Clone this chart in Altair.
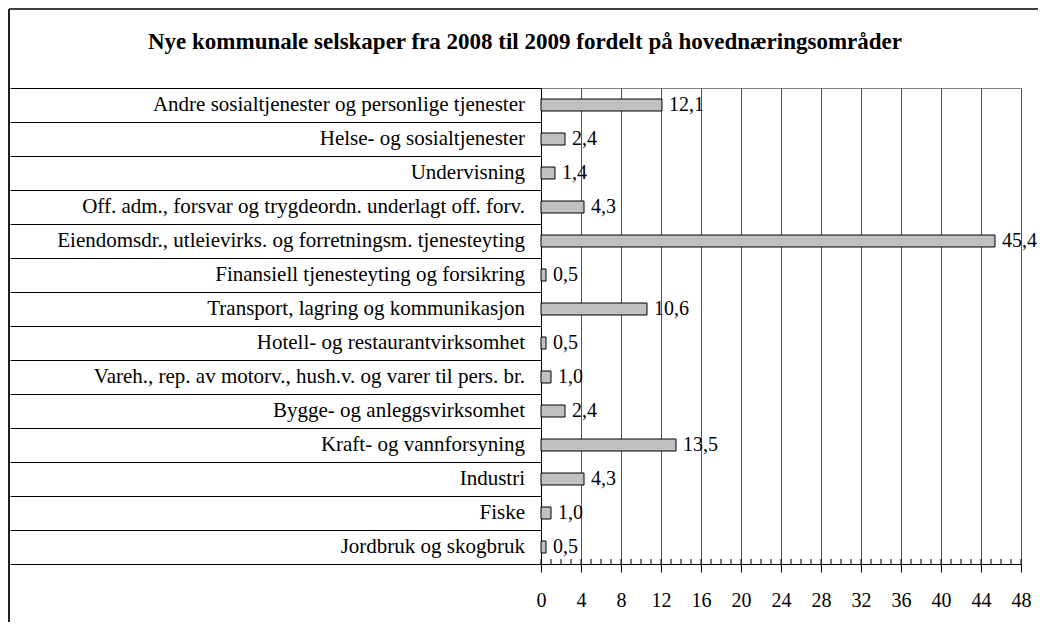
import altair as alt
import pandas as pd

categories = [
    "Andre sosialtjenester og personlige tjenester",
    "Helse- og sosialtjenester",
    "Undervisning",
    "Off. adm., forsvar og trygdeordn. underlagt off. forv.",
    "Eiendomsdr., utleievirks. og forretningsm. tjenesteyting",
    "Finansiell tjenesteyting og forsikring",
    "Transport, lagring og kommunikasjon",
    "Hotell- og restaurantvirksomhet",
    "Vareh., rep. av motorv., hush.v. og varer til pers. br.",
    "Bygge- og anleggsvirksomhet",
    "Kraft- og vannforsyning",
    "Industri",
    "Fiske",
    "Jordbruk og skogbruk",
]
values = [12.1, 2.4, 1.4, 4.3, 45.4, 0.5, 10.6, 0.5, 1.0, 2.4, 13.5, 4.3, 1.0, 0.5]
value_labels = ["12,1", "2,4", "1,4", "4,3", "45,4", "0,5", "10,6", "0,5", "1,0", "2,4", "13,5", "4,3", "1,0", "0,5"]
major_ticks = [0, 4, 8, 12, 16, 20, 24, 28, 32, 36, 40, 44, 48]
minor_ticks = list(range(0, 49))
title_text = "Nye kommunale selskaper fra 2008 til 2009 fordelt på hovednæringsområder"

FONT = "Liberation Serif"
W, H = 480, 476

df = pd.DataFrame({"cat": categories, "val": values, "lab": value_labels})
minor_df = pd.DataFrame({"m": minor_ticks})
one = pd.DataFrame({"k": [0]})

xscale = alt.Scale(domain=[0, 48], nice=False, zero=True)
xaxis = alt.Axis(values=major_ticks, title=None, grid=True, gridColor="#555555",
                 gridWidth=1, tickSize=8, tickColor="#000000", domainColor="#000000",
                 labelFont=FONT, labelFontSize=20, labelColor="#000000",
                 labelPadding=18, labelFlush=False, labelOverlap=False, format="d")
ysc = alt.Scale(paddingInner=0, paddingOuter=0)
yaxis = alt.Axis(labels=False, title=None, tickBand="extent", tickSize=531,
                 tickColor="#000000", domainColor="#000000", grid=False)

bars = alt.Chart(df).mark_bar(size=12, fill="#c0c0c0", stroke="#000000", strokeWidth=1).encode(
    x=alt.X("val:Q", scale=xscale, axis=xaxis),
    y=alt.Y("cat:N", sort=categories, scale=ysc, axis=yaxis),
)
vals = alt.Chart(df).mark_text(align="left", baseline="middle", dx=7, font=FONT,
                               fontSize=20, color="#000000").encode(
    x=alt.X("val:Q", scale=xscale, axis=xaxis),
    y=alt.Y("cat:N", sort=categories, scale=ysc, axis=yaxis),
    text="lab:N",
)
labels = alt.Chart(df).mark_text(align="right", baseline="middle", font=FONT,
                                 fontSize=21, color="#000000").encode(
    x=alt.value(-16),
    y=alt.Y("cat:N", sort=categories, scale=ysc, axis=yaxis),
    text="cat:N",
)
minor = alt.Chart(minor_df).mark_rule(color="#000000", strokeWidth=1).encode(
    x=alt.X("m:Q", scale=xscale, axis=xaxis),
    y=alt.value(H - 5),
    y2=alt.value(H),
)
title = alt.Chart(one).mark_text(align="center", baseline="middle", font=FONT,
                                 fontSize=23, fontWeight="bold", color="#000000").encode(
    x=alt.value(-16), y=alt.value(-46), text=alt.value(title_text)
)
frame_top = alt.Chart(one).mark_rule(color="#404040", strokeWidth=2).encode(
    x=alt.value(-532), x2=alt.value(W + 17), y=alt.value(-79), y2=alt.value(-79)
)
frame_left = alt.Chart(one).mark_rule(color="#202020", strokeWidth=2).encode(
    x=alt.value(-532), x2=alt.value(-532), y=alt.value(-79), y2=alt.value(H + 60)
)

chart = alt.layer(bars, minor, vals, labels, title, frame_top, frame_left).properties(
    width=W, height=H,
    autosize=alt.AutoSizeParams(type="none"),
    padding={"left": 533, "top": 80, "right": 17, "bottom": 58},
).configure_view(stroke="#808080", strokeWidth=1)

chart.save("out.html", embed_options={"renderer": "svg", "actions": False})
